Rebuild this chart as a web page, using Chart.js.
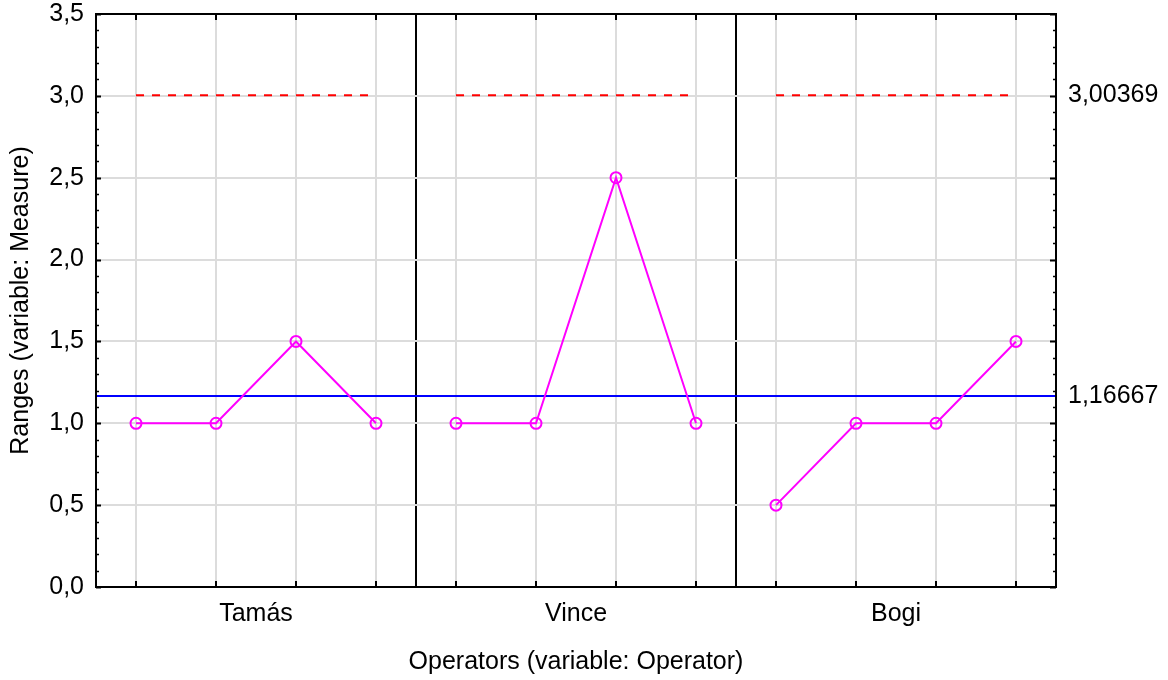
<!DOCTYPE html>
<html>
<head>
<meta charset="utf-8">
<script src="https://cdn.jsdelivr.net/npm/chart.js@4/dist/chart.umd.min.js"></script>
<style>
  html, body { margin: 0; padding: 0; background: #ffffff; }
  #wrap { width: 1168px; height: 680px; }
</style>
</head>
<body>
<div id="wrap"><canvas id="c" width="1168" height="680"></canvas></div>
<script>
// ---- data ----
const operators = ['Tamás', 'Vince', 'Bogi'];
const partsPerOperator = 4;
const tamasRanges = [1.0, 1.0, 1.5, 1.0];
const vinceRanges = [1.0, 1.0, 2.5, 1.0];
const bogiRanges  = [0.5, 1.0, 1.0, 1.5];
const uclValue = 3.00369;
const meanRange = 1.16667;
const yTickValues = [0, 0.5, 1.0, 1.5, 2.0, 2.5, 3.0, 3.5];
const yMin = 0, yMax = 3.5;
const xTitle = 'Operators (variable: Operator)';
const yTitle = 'Ranges (variable: Measure)';

const operatorRanges = [tamasRanges, vinceRanges, bogiRanges];
const nCats = operators.length * partsPerOperator;

// ---- tick layout on the x scale (values in category units) ----
const catCenters = [];
for (let i = 0; i < nCats; i++) catCenters.push(i + 0.5);
const groupCenters = operators.map((_, g) => g * partsPerOperator + partsPerOperator / 2);
const separators = [];
for (let g = 1; g < operators.length; g++) separators.push(g * partsPerOperator);

function isIn(arr, v) { return arr.some(a => Math.abs(a - v) < 1e-9); }
const fmt1 = v => v.toFixed(1).replace('.', ',');
const fmt5 = v => v.toFixed(5).replace('.', ',');

// ---- datasets ----
const datasets = [];
datasets.push({
  label: 'mean', data: [{x: 0, y: meanRange}, {x: nCats, y: meanRange}],
  borderColor: '#0000ff', borderWidth: 2, pointRadius: 0, order: 3
});
operatorRanges.forEach((vals, g) => {
  datasets.push({
    label: 'ucl ' + operators[g],
    data: [{x: g * partsPerOperator + 0.5, y: uclValue}, {x: g * partsPerOperator + partsPerOperator - 0.5, y: uclValue}],
    borderColor: '#ff0000', borderWidth: 2, borderDash: [8, 8], pointRadius: 0, order: 2
  });
  datasets.push({
    label: operators[g],
    data: vals.map((v, i) => ({x: g * partsPerOperator + i + 0.5, y: v})),
    borderColor: '#ff00ff', borderWidth: 2, pointRadius: 5.5, pointBorderWidth: 2,
    pointBackgroundColor: 'rgba(0,0,0,0)', pointBorderColor: '#ff00ff', order: 1
  });
});

// ---- frame + inner tick marks ----
const framePlugin = {
  id: 'frame',
  afterDatasetsDraw(chart) {
    const {ctx, chartArea: a, scales} = chart;
    const y = scales.y, x = scales.x;
    ctx.save();
    ctx.strokeStyle = '#000000';
    for (let k = 0; k <= Math.round((yMax - yMin) * 10); k++) {
      const v = yMin + k / 10;
      const p = Math.round(y.getPixelForValue(v)) + 0.5;
      const major = (k % 5 === 0);
      ctx.lineWidth = major ? 2 : 1.5;
      const lenL = major ? 5 : 3, lenR = major ? 6 : 3;
      ctx.beginPath();
      ctx.moveTo(a.left, p); ctx.lineTo(a.left + lenL, p);
      ctx.moveTo(a.right, p); ctx.lineTo(a.right - lenR, p);
      ctx.stroke();
    }
    ctx.lineWidth = 2;
    catCenters.forEach(v => {
      const p = Math.round(x.getPixelForValue(v));
      ctx.beginPath();
      ctx.moveTo(p, a.bottom); ctx.lineTo(p, a.bottom - 6);
      ctx.moveTo(p, a.top); ctx.lineTo(p, a.top + 6);
      ctx.stroke();
    });
    ctx.lineWidth = 2;
    ctx.strokeRect(a.left, a.top, a.right - a.left, a.bottom - a.top);
    ctx.restore();
  }
};

const fontTick = {family: '"Liberation Sans", Arial, sans-serif', size: 25};
const fontTitle = {family: '"Liberation Sans", Arial, sans-serif', size: 25};

function noPadV(s) { s.paddingTop = 0; s.paddingBottom = 0; }

new Chart(document.getElementById('c'), {
  type: 'line',
  data: { datasets },
  options: {
    responsive: false,
    animation: false,
    devicePixelRatio: 1,
    layout: { padding: { top: 14, left: 0, right: 0, bottom: 0 } },
    plugins: { legend: { display: false }, tooltip: { enabled: false } },
    elements: { line: { tension: 0 } },
    scales: {
      x: {
        type: 'linear', position: 'bottom', min: 0, max: nCats,
        afterBuildTicks(s) {
          const vals = [...catCenters, ...groupCenters, ...separators].sort((a, b) => a - b);
          s.ticks = vals.map(v => ({value: v}));
        },
        afterFit(s) { s.height = 93; s.paddingLeft = 0; s.paddingRight = 0; },
        border: { display: false },
        grid: {
          drawTicks: false,
          color(ctx) {
            const v = ctx.tick ? ctx.tick.value : null;
            if (v === null) return 'rgba(0,0,0,0)';
            if (isIn(separators, v)) return '#000000';
            if (isIn(catCenters, v)) return '#dcdcdc';
            return 'rgba(0,0,0,0)';
          },
          lineWidth: 2
        },
        ticks: {
          autoSkip: false, maxRotation: 0, padding: 12,
          color: '#000000', font: fontTick,
          callback(v) {
            const g = groupCenters.findIndex(c => Math.abs(c - v) < 1e-9);
            return g >= 0 ? operators[g] : '';
          }
        },
        title: { display: true, text: xTitle, color: '#000000', font: fontTitle, padding: { top: 0, bottom: 3 } }
      },
      y: {
        type: 'linear', position: 'left', min: yMin, max: yMax,
        afterBuildTicks(s) { s.ticks = yTickValues.map(v => ({value: v})); },
        afterFit(s) { s.width = 96; noPadV(s); },
        border: { display: false },
        grid: { drawTicks: false, color: '#dcdcdc', lineWidth: 2 },
        ticks: { padding: 12, color: '#000000', font: fontTick, callback: v => fmt1(v) },
        title: { display: true, text: yTitle, color: '#000000', font: fontTitle, padding: { top: 6, bottom: 0 } }
      },
      y2: {
        type: 'linear', position: 'right', min: yMin, max: yMax,
        afterBuildTicks(s) { s.ticks = [meanRange, uclValue].map(v => ({value: v})); },
        afterFit(s) { s.width = 112; noPadV(s); },
        border: { display: false },
        grid: { drawOnChartArea: false, drawTicks: false },
        ticks: { padding: 12, color: '#000000', font: fontTick, callback: v => fmt5(v) }
      }
    }
  },
  plugins: [framePlugin]
});
</script>
</body>
</html>
